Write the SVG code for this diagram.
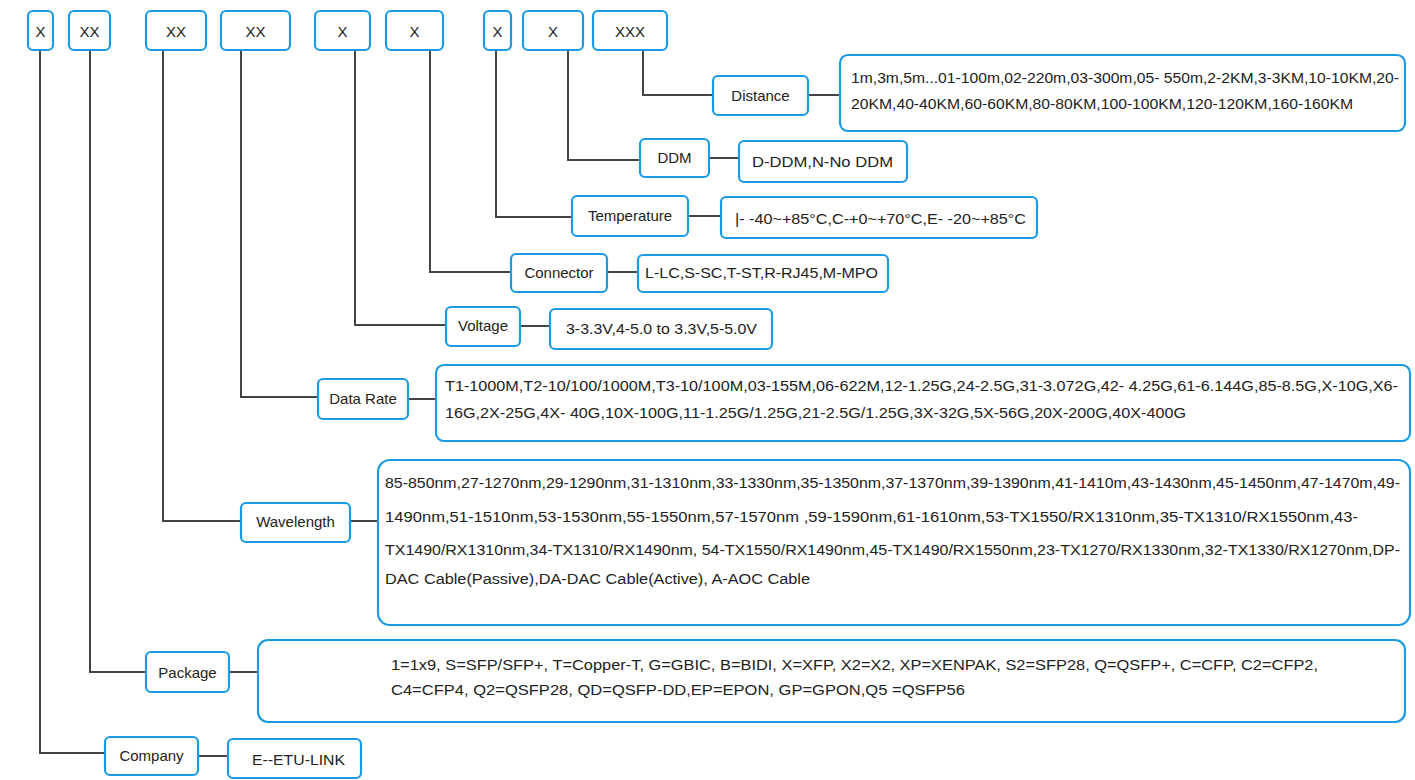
<svg xmlns="http://www.w3.org/2000/svg" width="1415" height="780" viewBox="0 0 1415 780">
<style>
.b{fill:#fff;stroke:#1a9be3;stroke-width:2.2}
.t{font-family:"Liberation Sans",Arial,sans-serif;font-size:14px;fill:#222}
.l{font-family:"Liberation Sans",Arial,sans-serif;font-size:15px;fill:#222;text-anchor:middle}
.c{fill:none;stroke:#444;stroke-width:2}
</style>
<rect width="1415" height="780" fill="#fff"/>
<g id="connectors">
<path class="c" d="M40 50V753H105"/>
<path class="c" d="M198 756H228"/>
<path class="c" d="M90 50V672H146"/>
<path class="c" d="M229 672H258"/>
<path class="c" d="M163 50V521H241"/>
<path class="c" d="M350 521H378"/>
<path class="c" d="M241 50V397H318"/>
<path class="c" d="M408 399H436"/>
<path class="c" d="M355 50V325H446"/>
<path class="c" d="M520 326H550"/>
<path class="c" d="M430 50V272H511"/>
<path class="c" d="M607 272H638"/>
<path class="c" d="M496 50V217H572"/>
<path class="c" d="M688 216H721"/>
<path class="c" d="M568 50V160H640"/>
<path class="c" d="M709 158H739"/>
<path class="c" d="M643 50V95H713"/>
<path class="c" d="M808 95H840"/>
</g>
<g id="top1"><rect class="b" x="28" y="11" width="25" height="39" rx="5"/><text class="l" x="40.5" y="37">X</text></g>
<g id="top2"><rect class="b" x="69" y="11" width="41" height="39" rx="5"/><text class="l" x="89.5" y="37">XX</text></g>
<g id="top3"><rect class="b" x="146" y="11" width="60" height="39" rx="5"/><text class="l" x="176" y="37">XX</text></g>
<g id="top4"><rect class="b" x="221" y="11" width="69" height="39" rx="5"/><text class="l" x="255.5" y="37">XX</text></g>
<g id="top5"><rect class="b" x="315" y="11" width="55" height="39" rx="5"/><text class="l" x="342.5" y="37">X</text></g>
<g id="top6"><rect class="b" x="386" y="11" width="57" height="39" rx="5"/><text class="l" x="414.5" y="37">X</text></g>
<g id="top7"><rect class="b" x="484" y="11" width="27" height="39" rx="5"/><text class="l" x="497.5" y="37">X</text></g>
<g id="top8"><rect class="b" x="523" y="11" width="60" height="39" rx="5"/><text class="l" x="553" y="37">X</text></g>
<g id="top9"><rect class="b" x="593" y="11" width="74" height="39" rx="5"/><text class="l" x="630" y="37">XXX</text></g>

<g id="distance"><rect class="b" x="713" y="76" width="95" height="39" rx="5"/><text class="l" x="760.5" y="101">Distance</text></g>
<g id="distance-val"><rect class="b" x="840" y="55" width="565" height="76" rx="8"/>
<text class="t" x="851" y="83" textLength="548" lengthAdjust="spacingAndGlyphs">1m,3m,5m...01-100m,02-220m,03-300m,05- 550m,2-2KM,3-3KM,10-10KM,20-</text>
<text class="t" x="851" y="109" textLength="502" lengthAdjust="spacingAndGlyphs">20KM,40-40KM,60-60KM,80-80KM,100-100KM,120-120KM,160-160KM</text></g>

<g id="ddm"><rect class="b" x="640" y="139" width="69" height="38" rx="5"/><text class="l" x="674.5" y="163">DDM</text></g>
<g id="ddm-val"><rect class="b" x="739" y="141" width="168" height="41" rx="5"/><text class="t" x="752" y="167" textLength="141" lengthAdjust="spacingAndGlyphs">D-DDM,N-No DDM</text></g>

<g id="temperature"><rect class="b" x="572" y="196" width="116" height="40" rx="5"/><text class="l" x="630" y="221">Temperature</text></g>
<g id="temperature-val"><rect class="b" x="721" y="197" width="316" height="41" rx="5"/><text class="t" x="735" y="224" textLength="291" lengthAdjust="spacingAndGlyphs">|- -40~+85°C,C-+0~+70°C,E- -20~+85°C</text></g>

<g id="connector"><rect class="b" x="511" y="254" width="96" height="38" rx="5"/><text class="l" x="559" y="278">Connector</text></g>
<g id="connector-val"><rect class="b" x="638" y="255" width="250" height="37" rx="5"/><text class="t" x="645" y="278" textLength="233" lengthAdjust="spacingAndGlyphs">L-LC,S-SC,T-ST,R-RJ45,M-MPO</text></g>

<g id="voltage"><rect class="b" x="446" y="307" width="74" height="39" rx="5"/><text class="l" x="483" y="331">Voltage</text></g>
<g id="voltage-val"><rect class="b" x="550" y="309" width="222" height="40" rx="5"/><text class="t" x="566" y="334" textLength="191" lengthAdjust="spacingAndGlyphs">3-3.3V,4-5.0 to 3.3V,5-5.0V</text></g>

<g id="datarate"><rect class="b" x="318" y="379" width="90" height="40" rx="5"/><text class="l" x="363" y="404">Data Rate</text></g>
<g id="datarate-val"><rect class="b" x="436" y="365" width="974" height="76" rx="8"/>
<text class="t" x="445" y="391" textLength="953" lengthAdjust="spacingAndGlyphs">T1-1000M,T2-10/100/1000M,T3-10/100M,03-155M,06-622M,12-1.25G,24-2.5G,31-3.072G,42- 4.25G,61-6.144G,85-8.5G,X-10G,X6-</text>
<text class="t" x="445" y="418" textLength="741" lengthAdjust="spacingAndGlyphs">16G,2X-25G,4X- 40G,10X-100G,11-1.25G/1.25G,21-2.5G/1.25G,3X-32G,5X-56G,20X-200G,40X-400G</text></g>

<g id="wavelength"><rect class="b" x="241" y="503" width="109" height="39" rx="5"/><text class="l" x="295.5" y="527">Wavelength</text></g>
<g id="wavelength-val"><rect class="b" x="378" y="460" width="1032" height="165" rx="12"/>
<text class="t" x="385" y="488" textLength="1015" lengthAdjust="spacingAndGlyphs">85-850nm,27-1270nm,29-1290nm,31-1310nm,33-1330nm,35-1350nm,37-1370nm,39-1390nm,41-1410m,43-1430nm,45-1450nm,47-1470m,49-</text>
<text class="t" x="385" y="522" textLength="973" lengthAdjust="spacingAndGlyphs">1490nm,51-1510nm,53-1530nm,55-1550nm,57-1570nm ,59-1590nm,61-1610nm,53-TX1550/RX1310nm,35-TX1310/RX1550nm,43-</text>
<text class="t" x="385" y="555" textLength="1015" lengthAdjust="spacingAndGlyphs">TX1490/RX1310nm,34-TX1310/RX1490nm, 54-TX1550/RX1490nm,45-TX1490/RX1550nm,23-TX1270/RX1330nm,32-TX1330/RX1270nm,DP-</text>
<text class="t" x="385" y="584" textLength="425" lengthAdjust="spacingAndGlyphs">DAC Cable(Passive),DA-DAC Cable(Active), A-AOC Cable</text></g>

<g id="package"><rect class="b" x="146" y="652" width="83" height="40" rx="5"/><text class="l" x="187.5" y="678">Package</text></g>
<g id="package-val"><rect class="b" x="258" y="640" width="1147" height="82" rx="10"/>
<text class="t" x="391" y="670" textLength="927" lengthAdjust="spacingAndGlyphs">1=1x9, S=SFP/SFP+, T=Copper-T, G=GBIC, B=BIDI, X=XFP, X2=X2, XP=XENPAK, S2=SFP28, Q=QSFP+, C=CFP, C2=CFP2,</text>
<text class="t" x="391" y="695" textLength="574" lengthAdjust="spacingAndGlyphs">C4=CFP4, Q2=QSFP28, QD=QSFP-DD,EP=EPON, GP=GPON,Q5 =QSFP56</text></g>

<g id="company"><rect class="b" x="105" y="737" width="93" height="38" rx="5"/><text class="l" x="151.5" y="761">Company</text></g>
<g id="company-val"><rect class="b" x="228" y="739" width="133" height="39" rx="5"/><text class="t" x="252" y="765" textLength="93" lengthAdjust="spacingAndGlyphs">E--ETU-LINK</text></g>
</svg>
